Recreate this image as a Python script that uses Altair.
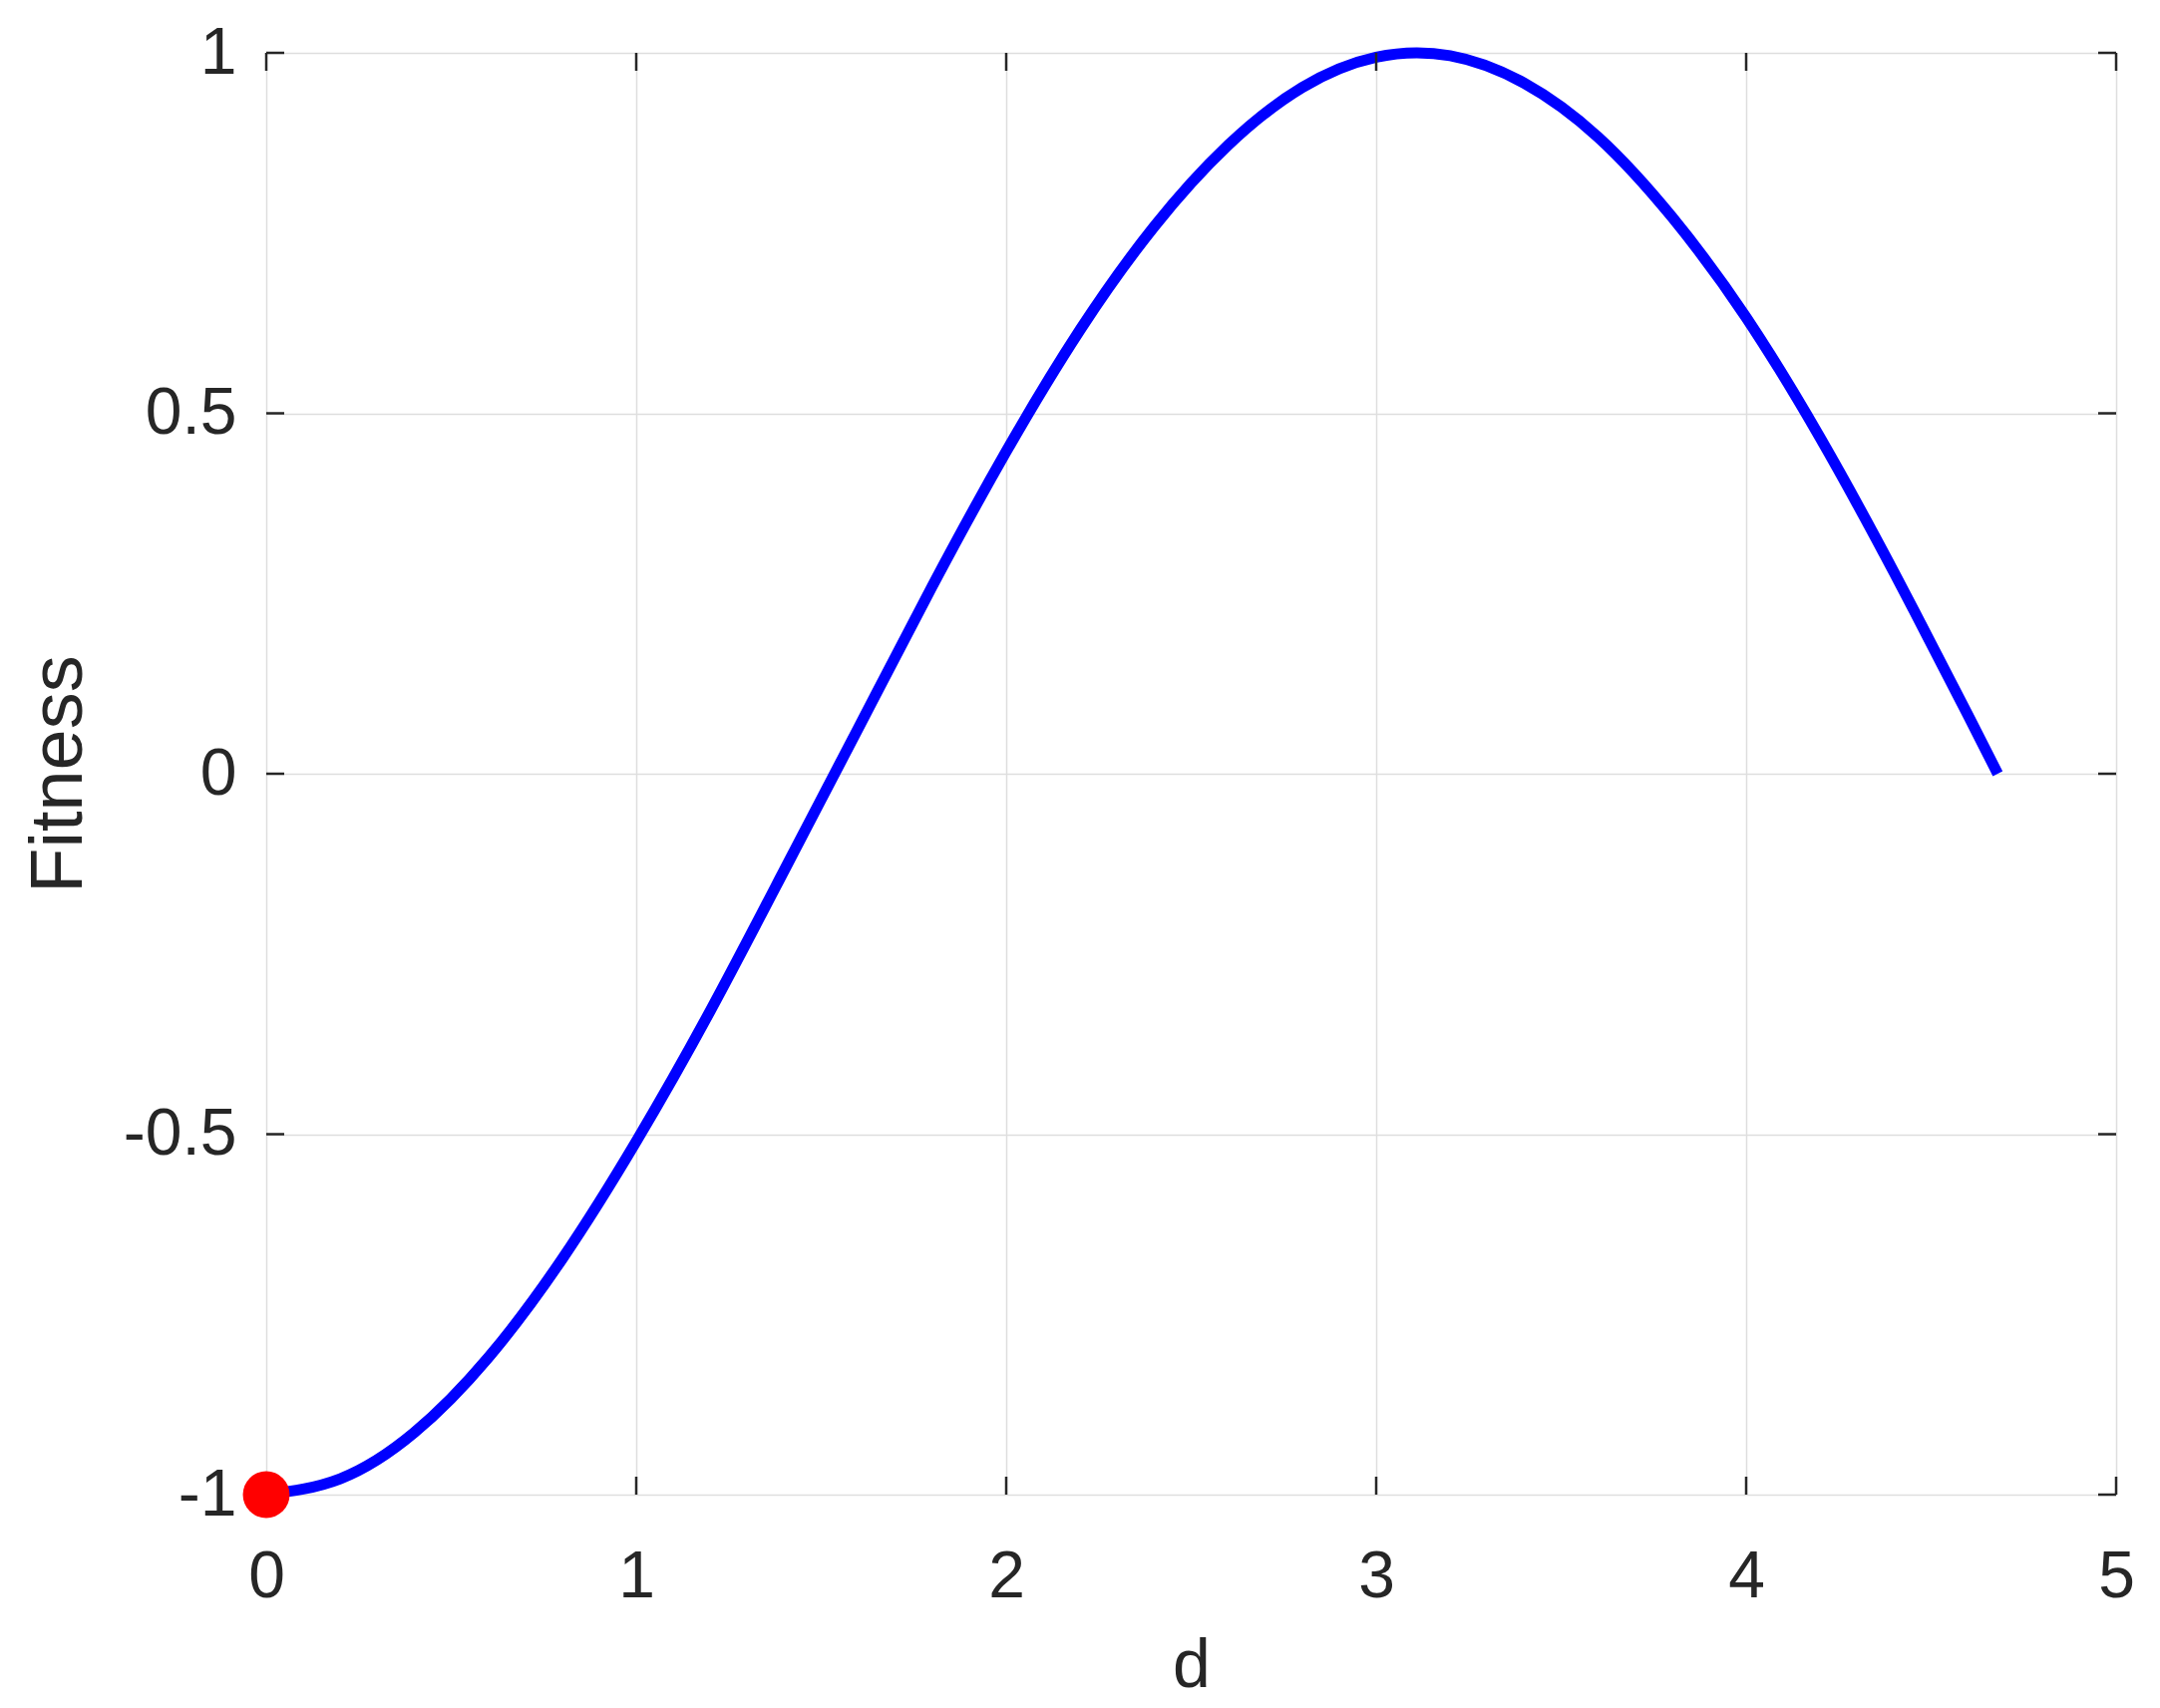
import altair as alt
import pandas as pd

# values
d_values = [0.0, 0.2, 0.4, 0.6, 0.8, 1.0, 1.2, 1.4, 1.6, 1.8, 2.0, 2.2, 2.4,
            2.6, 2.8, 3.0, 3.2, 3.4, 3.6, 3.8, 4.0, 4.2, 4.4, 4.6, 4.68]
fitness_values = [-1.0, -0.978, -0.914, -0.81, -0.673, -0.51, -0.329, -0.134,
                  0.063, 0.26, 0.447, 0.616, 0.759, 0.872, 0.952, 0.994, 0.996,
                  0.958, 0.883, 0.772, 0.633, 0.466, 0.279, 0.081, 0.0]
marker_d = [0.0]
marker_fitness = [-1.0]
x_ticks = [0, 1, 2, 3, 4, 5]
y_ticks = [-1, -0.5, 0, 0.5, 1]

W, H = 1855, 1446
TICK = 18
FONT = "Liberation Sans"
TXT = "#262626"

curve = pd.DataFrame({"d": d_values, "Fitness": fitness_values})
marker = pd.DataFrame({"d": marker_d, "Fitness": marker_fitness})
xt = pd.DataFrame({"v": x_ticks})
yt = pd.DataFrame({"v": y_ticks})

xscale = alt.Scale(domain=[0, 5], nice=False, zero=False)
yscale = alt.Scale(domain=[-1, 1], nice=False, zero=False)

x_axis = alt.Axis(values=x_ticks, title="d", grid=True, gridColor="#dedede",
                  gridWidth=1.5, domain=False, ticks=False, labelPadding=50,
                  labelFontSize=66, labelColor=TXT, labelFont=FONT,
                  titleFontSize=68, titleFont=FONT, titleColor=TXT,
                  titleFontWeight="normal", titleY=172, titleBaseline="middle",
                  labelFlush=False, labelExpr="'' + datum.value")
y_axis = alt.Axis(values=y_ticks, title="Fitness", grid=True, gridColor="#dedede",
                  gridWidth=1.5, domain=False, ticks=False, labelPadding=30,
                  labelFontSize=66, labelColor=TXT, labelFont=FONT,
                  titleFontSize=74, titleFont=FONT, titleColor=TXT,
                  titleFontWeight="normal", titleX=-208, titleY=H / 2,
                  titleBaseline="middle", titleAlign="center",
                  labelFlush=False, labelExpr="'' + datum.value")

line = alt.Chart(curve).mark_line(color="#0000ff", strokeWidth=11,
                                  interpolate="natural").encode(
    x=alt.X("d:Q", scale=xscale, axis=x_axis),
    y=alt.Y("Fitness:Q", scale=yscale, axis=y_axis),
)

dot = alt.Chart(marker).mark_circle(color="#ff0000", opacity=1, size=2200).encode(
    x=alt.X("d:Q", scale=xscale),
    y=alt.Y("Fitness:Q", scale=yscale),
)

tick_style = dict(color=TXT, strokeWidth=2.5)
bottom_ticks = alt.Chart(xt).mark_rule(**tick_style).encode(
    x=alt.X("v:Q", scale=xscale), y=alt.value(H), y2=alt.value(H - TICK))
top_ticks = alt.Chart(xt).mark_rule(**tick_style).encode(
    x=alt.X("v:Q", scale=xscale), y=alt.value(0), y2=alt.value(TICK))
left_ticks = alt.Chart(yt).mark_rule(**tick_style).encode(
    y=alt.Y("v:Q", scale=yscale), x=alt.value(0), x2=alt.value(TICK))
right_ticks = alt.Chart(yt).mark_rule(**tick_style).encode(
    y=alt.Y("v:Q", scale=yscale), x=alt.value(W), x2=alt.value(W - TICK))

chart = alt.layer(line, bottom_ticks, top_ticks, left_ticks, right_ticks, dot).properties(
    width=W, height=H,
    autosize=alt.AutoSizeParams(type="none"),
    padding={"left": 259, "top": 45, "right": 30, "bottom": 210},
).configure_view(stroke="#262626", strokeWidth=3).configure(background="white")

chart.save("out.html", embed_options={"renderer": "svg", "actions": False})
